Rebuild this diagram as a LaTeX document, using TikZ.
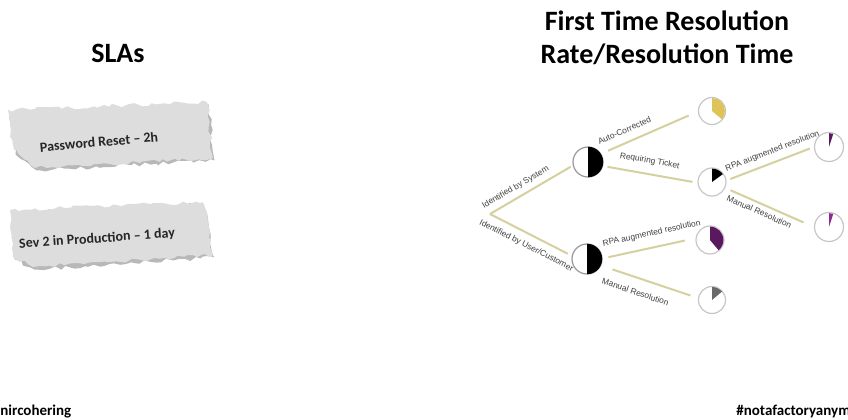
\documentclass[tikz,border=0pt]{standalone}
\usepackage{fontspec}
\setmainfont{Carlito}
\newfontfamily\lblfont{Liberation Sans}
\usepackage{xcolor}
\usetikzlibrary{decorations.pathmorphing}
\definecolor{branchcol}{RGB}{214,208,160}
\definecolor{papercol}{RGB}{221,221,221}
\definecolor{yellowpie}{RGB}{222,196,88}
\definecolor{purplepie}{RGB}{90,24,94}
\definecolor{magentapie}{RGB}{140,40,142}
\definecolor{graypie}{RGB}{105,105,105}
\tikzset{
	main/.style={line width=1pt, color=branchcol},
	title/.style={font=\fontsize{14}{16.5}\selectfont\bfseries, align=center},
	paper/.style={fill=papercol, decorate, decoration={random steps, segment length=2.5pt, amplitude=1pt}},
	papershadow/.style={fill=black!28, decorate, decoration={random steps, segment length=2.5pt, amplitude=1pt}},
	slatext/.style={font=\fontsize{7}{8}\selectfont\bfseries, text=black!85},
	lbl/.style={font=\lblfont\fontsize{4.2}{5}\selectfont, text=black!75, inner sep=0pt, sloped},
	pie/.style={circle, draw=black!22, line width=0.6pt, fill=white, minimum size=14pt, inner sep=0pt},
	half/.style={pie, draw=black!40, minimum size=15pt},
	foot/.style={font=\fontsize{7.5}{9}\selectfont\bfseries, inner sep=0pt}
}
\begin{document}
\begin{tikzpicture}[x=0.5pt, y=0.5pt]
	\useasboundingbox (0,0) rectangle (848,419);
	\clip (0,0) rectangle (848,419);
	\fill[white] (0,0) rectangle (848,419);
	\pgfmathsetseed{11}
	
	\node[title] (slas) at (118,366) {SLAs};
	\node[title] (ftr) at (667,381) {First Time Resolution\\Rate/Resolution Time};
	
	\fill[papershadow, shift={(1.5,-2.5)}] (8,309) -- (207,317) -- (213,261) -- (35,251) -- (14,269) -- cycle;
	\fill[paper] (8,309) -- (207,317) -- (213,261) -- (35,251) -- (14,269) -- cycle;
	\fill[papershadow, shift={(1.5,-2.5)}] (10,209) -- (203,217) -- (213,164) -- (33,152) -- (13,162) -- cycle;
	\fill[paper] (10,209) -- (203,217) -- (213,164) -- (33,152) -- (13,162) -- cycle;
	\node[slatext, rotate=5] (pwd) at (99,277) {Password Reset – 2h};
	\node[slatext, rotate=4] (sev) at (97,180) {Sev 2 in Production – 1 day};
	
	\coordinate (root) at (490,205);
	\node[half] (sys) at (588,257) {};
	\node[half] (usr) at (587,160) {};
	\node[pie, minimum size=13.5pt] (auto) at (712,308) {};
	\node[pie] (tkt) at (712,237) {};
	\node[pie] (rpaA) at (710,179) {};
	\node[pie, minimum size=13.5pt] (manA) at (712,119) {};
	\node[pie, minimum size=14.5pt] (rpaB) at (829,272) {};
	\node[pie, minimum size=14.5pt] (manB) at (829,192) {};
	
	\fill (sys.center) -- ++(90:7.6pt) arc[start angle=90, end angle=-90, radius=7.6pt] -- cycle;
	\fill (usr.center) -- ++(90:7.6pt) arc[start angle=90, end angle=-90, radius=7.6pt] -- cycle;
	\fill[yellowpie] (auto.center) -- ++(90:6.5pt) arc[start angle=90, end angle=-40, radius=6.5pt] -- cycle;
	\fill (tkt.center) -- ++(90:6.7pt) arc[start angle=90, end angle=36, radius=6.7pt] -- cycle;
	\fill[purplepie] (rpaA.center) -- ++(90:6.7pt) arc[start angle=90, end angle=-50, radius=6.7pt] -- cycle;
	\fill[graypie] (manA.center) -- ++(90:6.5pt) arc[start angle=90, end angle=40, radius=6.5pt] -- cycle;
	\fill[purplepie] (rpaB.center) -- ++(90:6.9pt) arc[start angle=90, end angle=72, radius=6.9pt] -- cycle;
	\fill[magentapie] (manB.center) -- ++(90:6.9pt) arc[start angle=90, end angle=72, radius=6.9pt] -- cycle;
	
	\draw[main, shorten >=1.2pt] (root) -- node[lbl, above=2.5pt, pos=0.37] {Identified by System} (sys.193);
	\draw[main, shorten >=2.2pt] (root) -- node[lbl, below=3.5pt, pos=0.51] {Identified by User/Customer} (usr.168);
	\draw[main, shorten <=3.7pt, shorten >=5pt] (sys.32) -- node[lbl, above=4pt, pos=0.29] {Auto-Corrected} (auto.182);
	\draw[main, shorten <=2.3pt, shorten >=2.5pt] (sys.-15) -- node[lbl, above=4pt, pos=0.47] {Requiring Ticket} (tkt.183);
	\draw[main, shorten <=3pt, shorten >=5.5pt] (usr.2) -- node[lbl, above=4.5pt, pos=0.56] {RPA augmented resolution} (rpaA.173);
	\draw[main, shorten <=6pt, shorten >=4pt] (usr.-25) -- node[lbl, below=5pt, pos=0.4] {Manual Resolution} (manA.172);
	\draw[main, shorten <=2pt, shorten >=2.2pt] (tkt.6) -- node[lbl, above=3pt, pos=0.57] {RPA augmented resolution} (rpaB.180);
	\draw[main, shorten <=2.8pt, shorten >=5.7pt] (tkt.-24) -- node[lbl, below=2pt, pos=0.42] {Manual Resolution} (manB.180);
	
	\node[foot, anchor=base west] (handle) at (0,4) {nircohering};
	\node[foot, anchor=base west] (hashtag) at (736,4) {\#notafactoryanym};
\end{tikzpicture}
\end{document}
